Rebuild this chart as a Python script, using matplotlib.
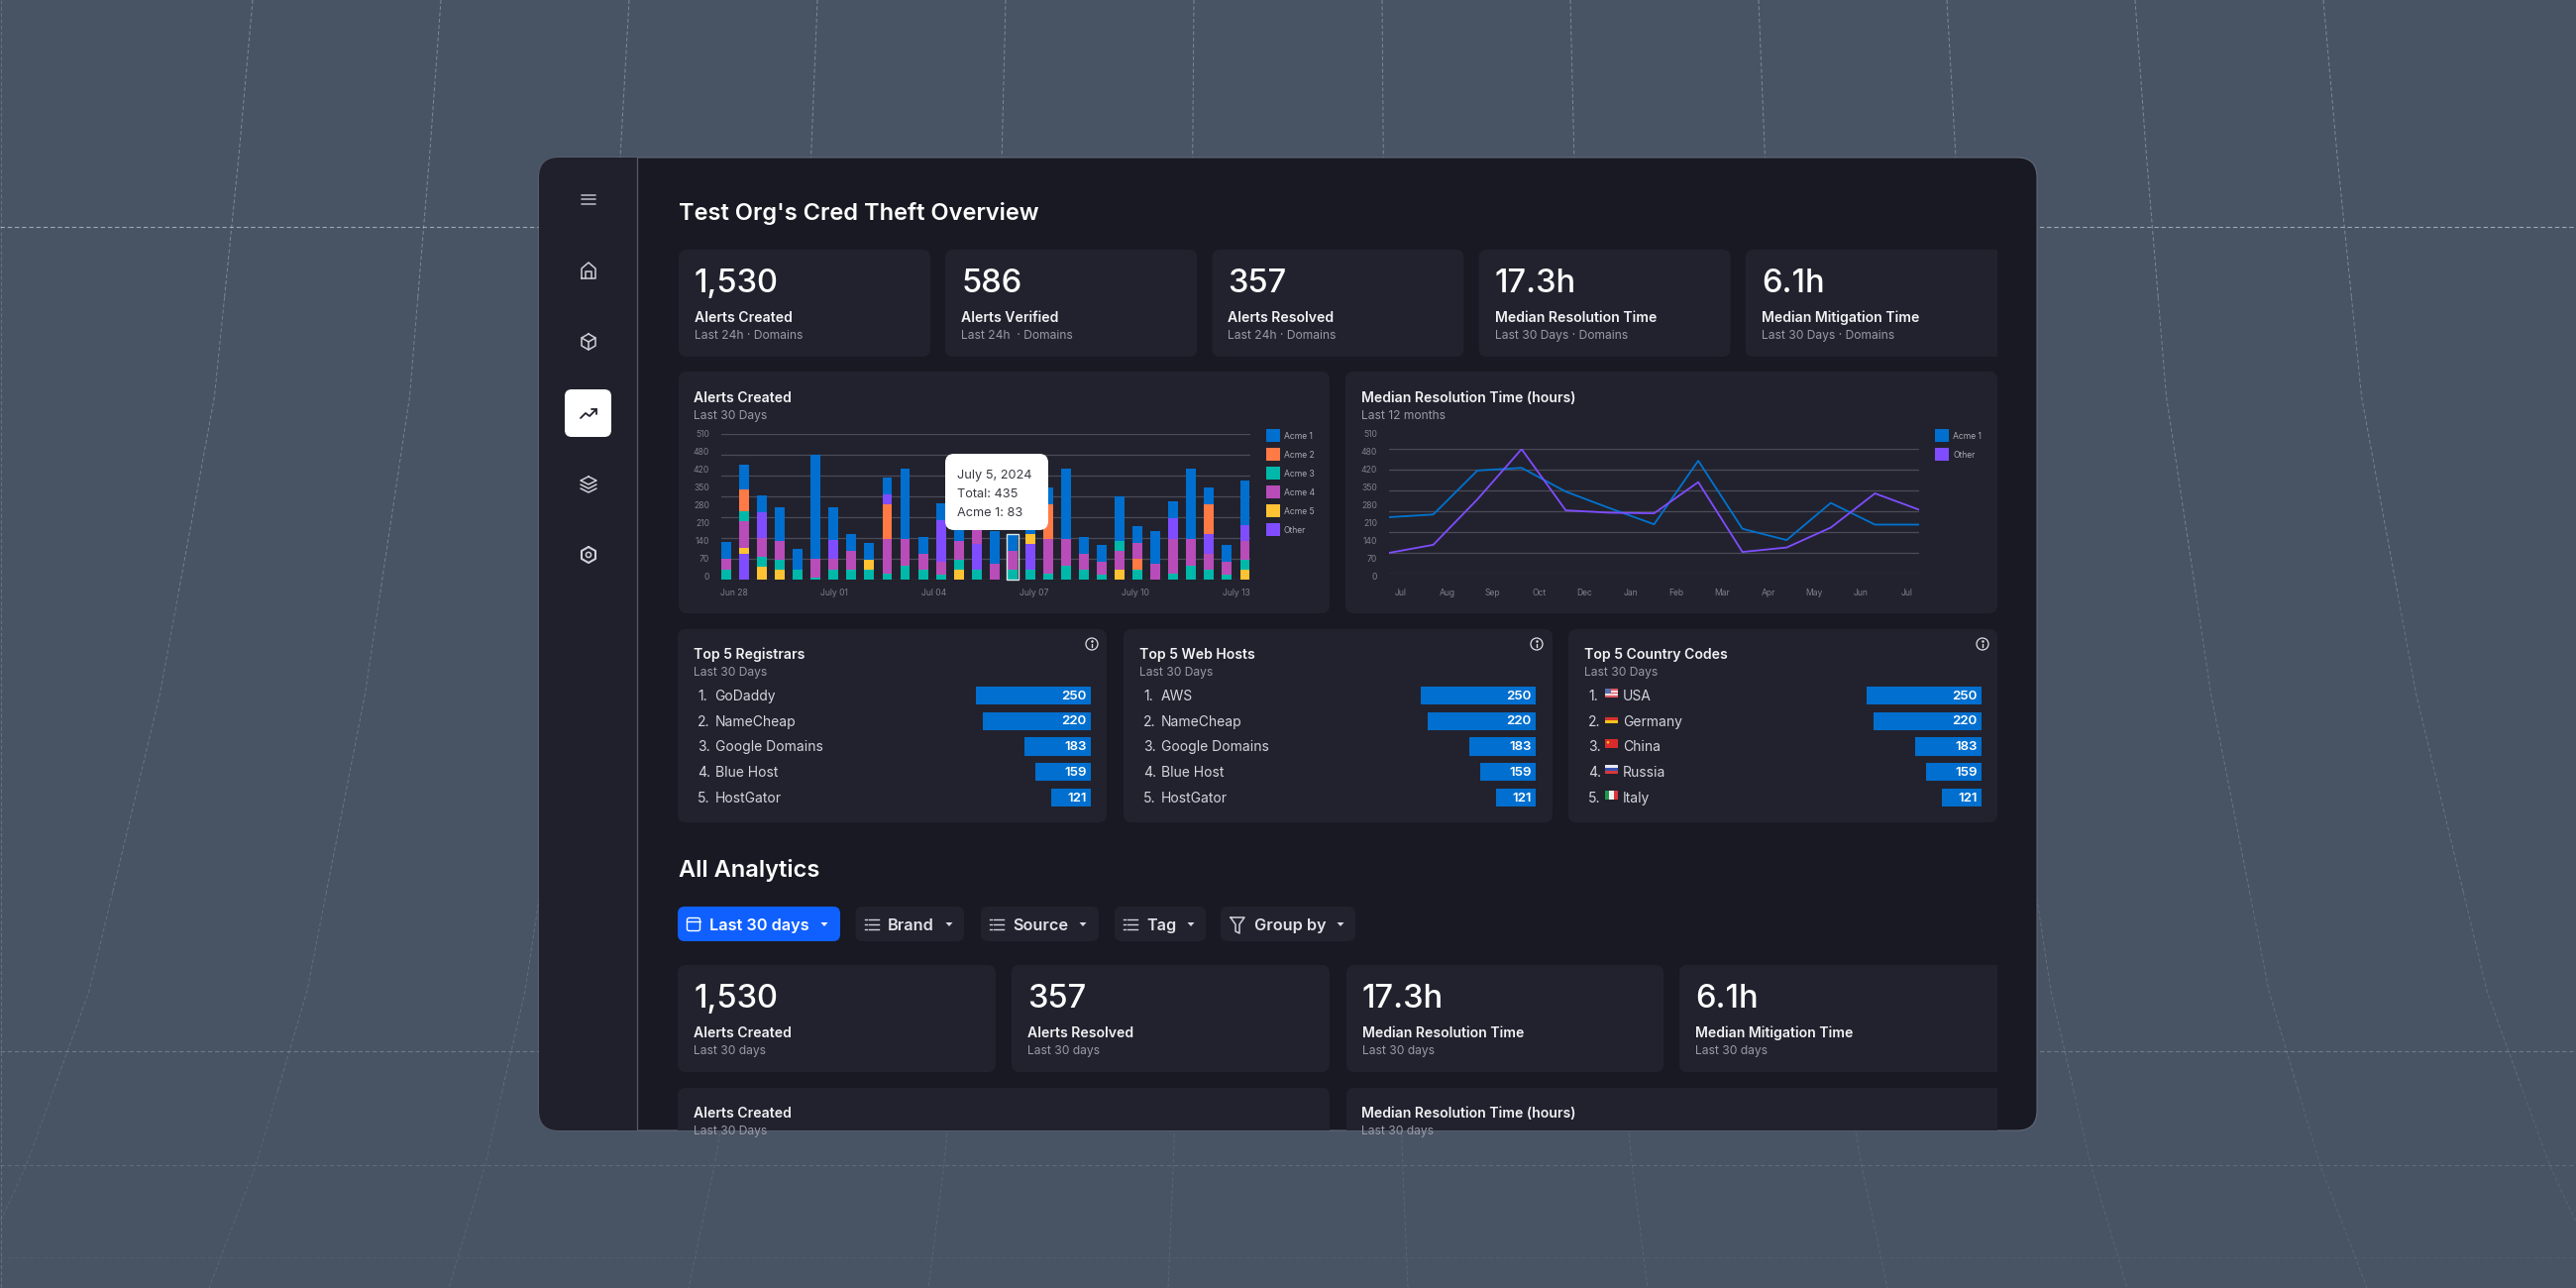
import numpy as np
import matplotlib
matplotlib.use("Agg")
import matplotlib.pyplot as plt
from matplotlib.patches import Circle, FancyBboxPatch, Polygon, Rectangle

plt.rcParams["font.family"] = ["Inter", "DejaVu Sans"]

W, H = 2600, 1300

# ---- colours
BG = "#485363"
PANEL = "#191923"
CARD = "#22222E"
SIDE = "#20202C"
GRID = "#4B4B58"
WHITE = "#FFFFFF"
MUTED = "#9A9AA6"
TICK = "#7F7F8B"
BODY = "#D4D4DC"
BLUE = "#006FCF"
SERIES_COLORS = {"1": BLUE, "2": "#FF7A45", "3": "#00B8A9",
                 "4": "#B84CB8", "5": "#FFC233", "o": "#7F4DFF"}

# ---- stat cards
top_stats = ["1,530", "586", "357", "17.3h", "6.1h"]
top_labels = ["Alerts Created", "Alerts Verified", "Alerts Resolved",
              "Median Resolution Time", "Median Mitigation Time"]
top_subs = ["Last 24h · Domains", "Last 24h  · Domains", "Last 24h · Domains",
            "Last 30 Days · Domains", "Last 30 Days · Domains"]
low_stats = ["1,530", "357", "17.3h", "6.1h"]
low_labels = ["Alerts Created", "Alerts Resolved",
              "Median Resolution Time", "Median Mitigation Time"]

# ---- stacked bars
acme1 = [57, 83, 57, 113, 70, 350, 110, 57, 57, 57, 237, 57, 57, 113, 57,
         110, 58, 57, 57, 237, 57, 57, 150, 57, 110, 57, 237, 57, 57, 150]
acme2 = [0, 73, 0, 0, 0, 0, 0, 0, 0, 117, 0, 0, 0, 0, 0,
         0, 0, 0, 117, 0, 0, 0, 0, 37, 0, 0, 0, 100, 0, 0]
acme3 = [33, 33, 33, 33, 33, 7, 33, 33, 33, 20, 47, 33, 17, 33, 33,
         0, 33, 33, 20, 47, 33, 17, 33, 33, 0, 20, 47, 33, 17, 33]
acme4 = [37, 90, 63, 63, 0, 63, 37, 63, 0, 117, 90, 53, 43, 63, 57,
         53, 63, 0, 117, 90, 53, 43, 63, 53, 53, 117, 90, 53, 43, 63]
acme5 = [0, 20, 43, 33, 0, 0, 0, 0, 33, 0, 0, 0, 0, 33, 0,
         0, 0, 33, 0, 0, 0, 0, 33, 0, 0, 0, 0, 0, 0, 33]
other = [0, 87, 87, 0, 0, 0, 63, 0, 0, 33, 0, 0, 140, 0, 87,
         0, 0, 87, 0, 0, 0, 0, 0, 0, 0, 70, 0, 67, 0, 53]
# bottom to top, the order changes from bar to bar in the picture
stack_order = ["341", "o54321", "534o1", "5341", "31", "341", "34o1", "341",
               "351", "342o1", "341", "341", "34o1", "5341", "3o41", "41",
               "341", "3o51", "3421", "341", "341", "341", "5431", "3241",
               "41", "34o1", "341", "34o21", "341", "534o1"]
bar_xticks = [0.46, 6.05, 11.64, 17.2, 22.9, 28.5]
bar_xlabels = ["Jun 28", "July 01", "Jul 04", "July 07", "July 10", "July 13"]
bar_legend = ["Acme 1", "Acme 2", "Acme 3", "Acme 4", "Acme 5", "Other"]
bar_legend_keys = ["1", "2", "3", "4", "5", "o"]
y_labels = ["510", "480", "420", "350", "280", "210", "140", "70", "0"]
highlight_bar = 16

# ---- lines
res_acme1 = [191, 200, 348, 357, 277, 221, 167, 381, 152, 114, 239, 166, 166]
res_other = [71, 98, 251, 420, 214, 206, 204, 309, 74, 89, 156, 271, 216]
line_xlabels = ["Jul", "Aug", "Sep", "Oct", "Dec", "Jan", "Feb", "Mar",
                "Apr", "May", "Jun", "Jul"]
line_xticks = [0.27, 1.31, 2.35, 3.39, 4.43, 5.47, 6.51, 7.55, 8.59, 9.63, 10.67, 11.71]

# ---- top 5 lists
top5_values = [250, 220, 183, 159, 121]
top5_lengths = [116, 109, 67, 56, 40]  # bars in the picture are not proportional
registrars = ["GoDaddy", "NameCheap", "Google Domains", "Blue Host", "HostGator"]
web_hosts = ["AWS", "NameCheap", "Google Domains", "Blue Host", "HostGator"]
countries = ["USA", "Germany", "China", "Russia", "Italy"]

# ---- background grid, half spacing of the fan at a given height
fan_y = [0, 155, 400, 700, 1000, 1176, 1300]
fan_step = [190, 192.5, 197, 207, 220, 231.5, 242]
fan_bands = [(0, 300, 0.45), (300, 600, 0.38), (600, 900, 0.28), (900, 1100, 0.22), (1100, 1300, 0.15)]
bg_hlines = [229, 1061, 1176, 1269]
bg_halpha = [0.7, 0.32, 0.2, 0.08]


def px_axes(x0, y0, x1, y1, zorder=5):
    ax = fig.add_axes([x0 / W, 1 - y1 / H, (x1 - x0) / W, (y1 - y0) / H], zorder=zorder)
    ax.patch.set_alpha(0)
    return ax


def txt(ax, x, y, s, size, color=WHITE, weight="normal", ha="left", clip=None):
    # y is the middle of the capitals, so descenders do not move the line
    baseline = y + size * 100 / 72 * 0.36
    t = ax.text(x, baseline, s, fontsize=size, color=color, fontweight=weight, ha=ha, va="baseline")
    if clip is not None:
        t.set_clip_path(clip)
    return t


def round_box(ax, x0, y0, x1, y1, color, radius=8, clip=None, **kw):
    p = FancyBboxPatch((x0, y0), x1 - x0, y1 - y0,
                       boxstyle=f"round,pad=0,rounding_size={radius}",
                       fc=color, ec=kw.pop("ec", "none"), **kw)
    ax.add_patch(p)
    if clip is not None:
        p.set_clip_path(clip)
    return p


def stroke(ax, xs, ys, color="#D0D0DA", lw=1.1):
    ax.plot(xs, ys, color=color, lw=lw, solid_capstyle="round", solid_joinstyle="round")


def list_icon(ax, cx, cy, color="#D0D0DA"):
    for dy in (-5, 0, 5):
        ax.plot([cx - 7, cx - 5.5], [cy + dy] * 2, color=color, lw=1)
        ax.plot([cx - 3, cx + 7], [cy + dy] * 2, color=color, lw=1)


def caret(ax, cx, cy, color="#D8D8E0"):
    ax.add_patch(Polygon([[cx - 3.5, cy - 2], [cx + 3.5, cy - 2], [cx, cy + 2]], fc=color, ec="none"))


def info_icon(ax, cx, cy):
    ax.add_patch(Circle((cx, cy), 6, fc="none", ec="#E0E0E6", lw=0.9))
    stroke(ax, [cx, cx], [cy - 0.5, cy + 3], "#E0E0E6", 1)
    ax.plot([cx], [cy - 3], ".", color="#E0E0E6", ms=1.6)


def draw_background(ax):
    dash = (0, (4, 2.5))
    for y0, y1, alpha in fan_bands:
        ys = np.arange(y0, y1 + 1, 20)
        step = np.interp(ys, fan_y, fan_step)
        for k in np.arange(0.5, 6):
            for side in (-1, 1):
                ax.plot(1300 + side * k * step, ys, color="#C5CBD4", lw=0.7, ls=dash, alpha=alpha, zorder=0)
    ax.plot([1, 1], [0, 1300], color="#C5CBD4", lw=0.7, ls=dash, alpha=0.25, zorder=0)
    for y, a in zip(bg_hlines, bg_halpha):
        ax.plot([0, W], [y, y], color="#C5CBD4", lw=0.8, ls=dash, alpha=a, zorder=0)


def draw_sidebar(ax, clip):
    side = Rectangle((544, 159), 99, 982, fc=SIDE, ec="none")
    ax.add_patch(side)
    side.set_clip_path(clip)
    ax.plot([643, 643], [159, 1141], color="#565A66", lw=0.9)
    cx = 594
    for y in (196.5, 201, 205.5):
        stroke(ax, [cx - 7, cx + 7], [y, y], "#B4B4C0", 1.2)
    # home
    stroke(ax, [cx - 7, cx - 7, cx, cx + 7, cx + 7, cx - 7],
           [281, 271, 265, 271, 281, 281])
    stroke(ax, [cx - 3, cx - 3, cx + 3, cx + 3], [281, 274, 274, 281])
    # cube
    hx = [cx, cx + 7, cx + 7, cx, cx - 7, cx - 7, cx]
    hy = [337, 341, 349, 353, 349, 341, 337]
    stroke(ax, hx, hy)
    stroke(ax, [cx - 7, cx, cx + 7], [341, 345, 341])
    stroke(ax, [cx, cx], [345, 353])
    # active item
    round_box(ax, 570, 393, 617, 441, WHITE, radius=7)
    stroke(ax, [cx - 8, cx - 3, cx + 1, cx + 8], [422, 417, 420, 413], "#22222E", 1.3)
    stroke(ax, [cx + 3, cx + 8, cx + 8], [413, 413, 418], "#22222E", 1.3)
    # layers
    stroke(ax, [cx, cx + 8, cx, cx - 8, cx], [481, 485, 489, 485, 481])
    stroke(ax, [cx - 8, cx, cx + 8], [489, 493, 489])
    stroke(ax, [cx - 8, cx, cx + 8], [493, 497, 493])
    # gear
    hy = [552, 556, 564, 568, 564, 556, 552]
    stroke(ax, hx, hy, lw=1.5)
    ax.add_patch(Circle((cx, 560), 2.6, fc="none", ec="#D0D0DA", lw=1.1))


def stat_card(ax, x0, x1, y0, y1, value, label, sub, clip=None):
    round_box(ax, x0, y0, x1, y1, CARD, clip=clip)
    txt(ax, x0 + 16, y0 + 31.5, value, 23.5, WHITE, 500)
    txt(ax, x0 + 16, y0 + 68, label, 10.1, "#F2F2F5", 600)
    txt(ax, x0 + 16, y0 + 86, sub, 8.7, MUTED)


def y_label_column(ax, x_right):
    for i, lab in enumerate(y_labels):
        txt(ax, x_right, 438 + 18 * i, lab, 6.2, TICK, ha="right")


def legend_column(ax, x, names, keys):
    for i, (name, key) in enumerate(zip(names, keys)):
        y = 433 + 19 * i
        ax.add_patch(Rectangle((x, y), 14, 13, fc=SERIES_COLORS[key], ec="none"))
        txt(ax, x + 18, y + 7, name, 6.2, "#A8A8B2")


def draw_bars():
    ax = px_axes(728, 438, 1261.5, 585)
    idx = np.arange(len(acme1))
    series = {"1": acme1, "2": acme2, "3": acme3, "4": acme4, "5": acme5, "o": other}
    for i, order in zip(idx, stack_order):
        base = 0
        for key in order:
            v = series[key][i]
            ax.bar(i, v, bottom=base, width=0.55, color=SERIES_COLORS[key], zorder=3)
            base += v
        if i == highlight_bar:
            ax.bar(i, base, width=0.64, fill=False, edgecolor="#DCE8E8", lw=1, zorder=4, clip_on=False)
    ax.set_xlim(-0.277, 29.277)
    ax.set_ylim(0, 490)
    ax.set_yticks(np.arange(0, 491, 70))
    ax.set_yticklabels([])
    ax.set_xticks(bar_xticks)
    ax.set_xticklabels(bar_xlabels, fontsize=6.2, color=TICK)
    ax.tick_params(length=0, pad=6.8)
    ax.grid(axis="y", color=GRID, lw=0.9, zorder=0)
    ax.set_axisbelow(True)
    for s in ax.spines.values():
        s.set_visible(False)


def draw_lines():
    ax = px_axes(1402, 453.3, 1937, 579.3)
    x = np.arange(len(res_acme1))
    ax.plot(x, res_acme1, color="#0073D1", lw=1.3, zorder=3)
    ax.plot(x, res_other, color="#7F4DFF", lw=1.3, zorder=4)
    ax.set_xlim(0, 12)
    ax.set_ylim(0, 420)
    ax.set_yticks(np.arange(0, 421, 70))
    ax.set_yticklabels([])
    ax.set_xticks(line_xticks)
    ax.set_xticklabels(line_xlabels, fontsize=6.2, color=TICK)
    ax.tick_params(length=0, pad=10.8)
    ax.grid(axis="y", color=GRID, lw=0.9, zorder=0)
    ax.set_axisbelow(True)
    for s in ax.spines.values():
        s.set_visible(False)


def draw_top5(bar_right):
    ax = px_axes(bar_right - 116, 689, bar_right, 818)
    rows = np.arange(5)
    ax.barh(rows, top5_lengths, height=0.7, color="#006FCF")
    for r, v in zip(rows, top5_values):
        ax.text(4.5, r + 0.03, str(v), color=WHITE, fontsize=9.6, fontweight=600, ha="right", va="center")
    ax.set_xlim(116, 0)
    ax.set_ylim(4.5, -0.5)
    ax.axis("off")


def draw_flag(ax, kind, x, y):
    w, h = 13, 9
    if kind == "USA":
        for i in range(5):
            ax.add_patch(Rectangle((x, y + i * h / 5), w, h / 5, fc="#E0575F" if i % 2 == 0 else "#F3D8DA", ec="none"))
        ax.add_patch(Rectangle((x, y), 5.5, 4.5, fc="#5A6FA8", ec="none"))
    elif kind == "Germany":
        for i, c in enumerate(["#26262A", "#D8322E", "#F6C21C"]):
            ax.add_patch(Rectangle((x, y + i * h / 3), w, h / 3, fc=c, ec="none"))
    elif kind == "China":
        ax.add_patch(Rectangle((x, y), w, h, fc="#D92B2B", ec="none"))
        ax.add_patch(Circle((x + 3, y + 3), 1.3, fc="#F6C21C", ec="none"))
    elif kind == "Russia":
        for i, c in enumerate(["#E8E8F0", "#3A50B0", "#D8383A"]):
            ax.add_patch(Rectangle((x, y + i * h / 3), w, h / 3, fc=c, ec="none"))
    else:
        for i, c in enumerate(["#1E9A4E", "#F2F2F2", "#D8383A"]):
            ax.add_patch(Rectangle((x + i * w / 3, y), w / 3, h, fc=c, ec="none"))


fig = plt.figure(figsize=(W / 100, H / 100), dpi=100, facecolor=BG)

base = px_axes(0, 0, W, H, zorder=1)
base.set_xlim(0, W)
base.set_ylim(H, 0)
base.axis("off")

draw_background(base)

dash_patch = round_box(base, 544, 159, 2056, 1141, PANEL, radius=20, ec="#5E6A7A", lw=0.8)
content_clip = Rectangle((544, 159), 1472, 982, transform=base.transData)
draw_sidebar(base, dash_patch)

txt(base, 685, 213.5, "Test Org's Cred Theft Overview", 17, WHITE, 600)

# top stat cards
for i in range(5):
    x0 = 685 + i * 269.2
    stat_card(base, x0, x0 + (254 if i < 4 else 300), 252, 360, top_stats[i], top_labels[i], top_subs[i],
              clip=content_clip)

# chart cards
round_box(base, 685, 375, 1342, 619, CARD)
round_box(base, 1358, 375, 2016, 619, CARD)
txt(base, 700, 401, "Alerts Created", 10.1, "#F2F2F5", 600)
txt(base, 700, 419, "Last 30 Days", 8.7, MUTED)
txt(base, 1374, 401, "Median Resolution Time (hours)", 10.1, "#F2F2F5", 600)
txt(base, 1374, 419, "Last 12 months", 8.7, MUTED)
y_label_column(base, 716)
y_label_column(base, 1390)
legend_column(base, 1278, bar_legend, bar_legend_keys)
legend_column(base, 1953, ["Acme 1", "Other"], ["1", "o"])
draw_bars()
draw_lines()

# top 5 cards
panels = [(684, 1117, "Top 5 Registrars", registrars, 1101),
          (1134, 1567, "Top 5 Web Hosts", web_hosts, 1550),
          (1583, 2016, "Top 5 Country Codes", countries, 2000)]
row_y = [702, 727.7, 753.3, 779, 805]
for x0, x1, title, names, bar_right in panels:
    round_box(base, x0, 635, x1, 830, CARD)
    txt(base, x0 + 16, 660, title, 10.1, "#F2F2F5", 600)
    txt(base, x0 + 16, 678, "Last 30 Days", 8.7, MUTED)
    info_icon(base, bar_right + 1, 650)
    for i, (name, y) in enumerate(zip(names, row_y)):
        txt(base, x0 + 20, y, f"{i + 1}.", 10, BODY)
        if names is countries:
            draw_flag(base, name, x0 + 37, y - 7)
            txt(base, x0 + 55, y, name, 10, BODY)
        else:
            txt(base, x0 + 37.5, y, name, 10, BODY)
    draw_top5(bar_right)

# all analytics
txt(base, 685, 876.5, "All Analytics", 17, WHITE, 600)
round_box(base, 684, 915, 848, 950, "#1060FF", radius=7)
txt(base, 716, 933, "Last 30 days", 11.7, WHITE, 600)
caret(base, 832, 933, WHITE)
round_box(base, 693.5, 926.5, 706.5, 939.5, "none", radius=2, ec=WHITE, lw=1)
stroke(base, [693.5, 706.5], [930, 930], WHITE, 1)
filters = [(863.5, 973, "Brand", 896, 958), (990, 1109, "Source", 1022, 1093),
           (1125, 1217, "Tag", 1157, 1202), (1232, 1368, "Group by", 1266, 1353)]
for x0, x1, name, tx, cx in filters:
    round_box(base, x0, 915, x1, 950, CARD, radius=7)
    txt(base, tx, 933, name, 11.7, "#E2E2E8", 600)
    caret(base, cx, 933)
    if name != "Group by":
        list_icon(base, tx - 16, 933)
stroke(base, [1242, 1256, 1251, 1251, 1247, 1247, 1242], [926, 926, 933, 942, 940, 933, 926])

low_x = [(684, 1005), (1021, 1342), (1359, 1679), (1695, 2060)]
for (x0, x1), v, lab in zip(low_x, low_stats, low_labels):
    stat_card(base, x0, x1, 974, 1082, v, lab, "Last 30 days", clip=content_clip)

# bottom cards are cut off by the window
bottom_clip = Rectangle((544, 159), 1472, 982, transform=base.transData)
round_box(base, 684, 1098, 1342, 1170, CARD, clip=bottom_clip)
round_box(base, 1359, 1098, 2060, 1170, CARD, clip=bottom_clip)
txt(base, 700, 1123, "Alerts Created", 10.1, "#F2F2F5", 600)
txt(base, 700, 1141, "Last 30 Days", 8.7, MUTED, clip=bottom_clip)
txt(base, 1374, 1123, "Median Resolution Time (hours)", 10.1, "#F2F2F5", 600)
txt(base, 1374, 1141, "Last 30 days", 8.7, MUTED, clip=bottom_clip)

# tooltip sits over the bars
top = px_axes(0, 0, W, H, zorder=10)
top.set_xlim(0, W)
top.set_ylim(H, 0)
top.axis("off")
round_box(top, 954, 458, 1058, 535, WHITE, radius=9)
for y, line in zip([478, 497, 516], ["July 5, 2024", "Total: 435", "Acme 1: 83"]):
    txt(top, 966, y, line, 9.2, "#3A3A42")

fig.savefig("out.png", dpi=100, facecolor=BG)
